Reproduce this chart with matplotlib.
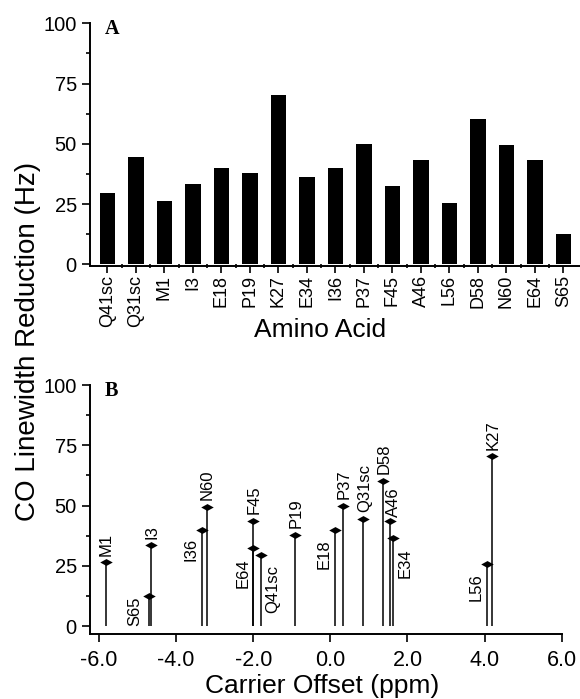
import matplotlib
matplotlib.use("Agg")
import matplotlib.pyplot as plt
import numpy as np

# ---------------- data ----------------
residues = ["Q41sc", "Q31sc", "M1", "I3", "E18", "P19", "K27", "E34", "I36",
            "P37", "F45", "A46", "L56", "D58", "N60", "E64", "S65"]
reduction_hz = [29.6, 44.4, 26.4, 33.5, 39.9, 37.9, 70.4, 36.4, 40.0,
                50.0, 32.4, 43.5, 25.6, 60.1, 49.6, 43.5, 12.5]
carrier_offset_ppm = [-1.79, 0.85, -5.83, -4.66, 0.13, -0.92, 4.19, 1.62, -3.32,
                      0.32, -2.00, 1.55, 4.05, 1.36, -3.21, -2.00, -4.70]

y_ticks = [0, 25, 50, 75, 100]
x_ticks_b = [-6, -4, -2, 0, 2, 4, 6]
x_tick_labels_b = ["-6.0", "-4.0", "-2.0", "0.0", "2.0", "4.0", "6.0"]

# label placement in panel B (style only): side, dx (ppm), dy (Hz)
# "stack_top"/"stack_bottom": label goes above the highest / below the lowest
# marker sharing the same stem position.
label_place = {
    "M1": ("above", 0.02, 2.8), "I3": ("above", 0.03, 2.8),
    "S65": ("base", -0.38, 0.0), "I36": ("below", -0.29, -3.4),
    "N60": ("above", 0.02, 2.8), "F45": ("stack_top", 0.03, 2.8),
    "E64": ("stack_bottom", -0.27, -4.2), "Q41sc": ("below", 0.29, -4.4),
    "P19": ("above", 0.03, 2.8), "E18": ("below", -0.28, -4.0),
    "P37": ("above", 0.03, 2.8), "Q31sc": ("above", 0.03, 2.8),
    "D58": ("above", 0.03, 2.8), "A46": ("above", 0.09, 1.8),
    "E34": ("below", 0.33, -4.1), "L56": ("below", -0.27, -3.8),
    "K27": ("above", 0.03, 2.8),
}

plt.rcParams["font.family"] = ["Liberation Sans", "DejaVu Sans"]

fig = plt.figure(figsize=(5.8, 6.99), dpi=100)

spine_lw = 1.4
tick_w = 1.2

def style_axes(ax):
    for s in ["top", "right"]:
        ax.spines[s].set_visible(False)
    for s in ["left", "bottom"]:
        ax.spines[s].set_linewidth(spine_lw)
    ax.set_yticks(y_ticks)
    ax.set_yticks([12.5, 37.5, 62.5, 87.5], minor=True)
    ax.tick_params(axis="y", which="major", direction="out", length=5.5,
                   width=tick_w, labelsize=14.5, pad=4)
    ax.tick_params(axis="y", which="minor", direction="out", length=2.8,
                   width=tick_w)

# ---------------- panel A ----------------
axA = fig.add_axes([90/580, 1-265.7/699, 490/580, (265.7-23.3)/699])
xpos = np.arange(len(residues))
axA.bar(xpos, reduction_hz, width=0.53, color="black", edgecolor="none")
axA.set_xlim(-0.614, 16.58)
axA.set_ylim(-0.55, 100)
style_axes(axA)
axA.set_xticks(xpos)
axA.set_xticklabels(residues, rotation=90, fontsize=13)
axA.set_xticks(xpos[:-1] + 0.5, minor=True)
axA.tick_params(axis="x", which="major", direction="out", length=5,
                width=tick_w, pad=1.5)
axA.tick_params(axis="x", which="minor", direction="inout", length=3,
                width=tick_w)
axA.text(0.03, 0.975, "A", transform=axA.transAxes, ha="left", va="center",
         fontsize=14.5, fontweight="bold", family=["Liberation Serif"])

# ---------------- panel B ----------------
axB = fig.add_axes([90/580, 1-634.3/699, (561.7-90)/580, (634.3-385)/699])
axB.set_xlim(-6.233, 6.0)
axB.set_ylim(-3.4, 100)
style_axes(axB)
axB.set_xticks(x_ticks_b)
axB.set_xticklabels(x_tick_labels_b, fontsize=15.5)
axB.tick_params(axis="x", which="major", direction="out", length=6,
                width=tick_w, pad=5.5)

axB.vlines(carrier_offset_ppm, 0, reduction_hz, color="black", lw=1.1)
diamond = [(-1, 0), (0, 0.55), (1, 0), (0, -0.55), (-1, 0)]
axB.plot(carrier_offset_ppm, reduction_hz, linestyle="none", marker=diamond,
         markersize=9, color="black", markeredgewidth=0)

offs = np.array(carrier_offset_ppm)
vals = np.array(reduction_hz)
for name, x, y in zip(residues, carrier_offset_ppm, reduction_hz):
    side, dx, dy = label_place[name]
    same = vals[np.isclose(offs, x)]
    if side == "stack_top":
        axB.text(x + dx, same.max() + dy, name, rotation=90, ha="center",
                 va="bottom", fontsize=12)
    elif side == "stack_bottom":
        axB.text(x + dx, same.min() + dy, name, rotation=90, ha="center",
                 va="top", fontsize=12)
    elif side == "above":
        axB.text(x + dx, y + dy, name, rotation=90, ha="center", va="bottom",
                 fontsize=12)
    elif side == "below":
        axB.text(x + dx, y + dy, name, rotation=90, ha="center", va="top",
                 fontsize=12)
    else:
        axB.text(x + dx, 0, name, rotation=90, ha="center", va="bottom",
                 fontsize=12)

axB.text(0.032, 0.976, "B", transform=axB.transAxes, ha="left", va="center",
         fontsize=14.5, fontweight="bold", family=["Liberation Serif"])

# ---------------- shared labels ----------------
fig.text(320/580, 1-336.7/699, "Amino Acid", ha="center", va="baseline",
         fontsize=19)
fig.text(321.7/580, 1-692.5/699, "Carrier Offset (ppm)", ha="center",
         va="baseline", fontsize=19)
fig.text(28/580, 1-341.5/699, "CO Linewidth Reduction (Hz)", rotation=90,
         ha="center", va="center", fontsize=20)

fig.savefig("out.png", dpi=100)
